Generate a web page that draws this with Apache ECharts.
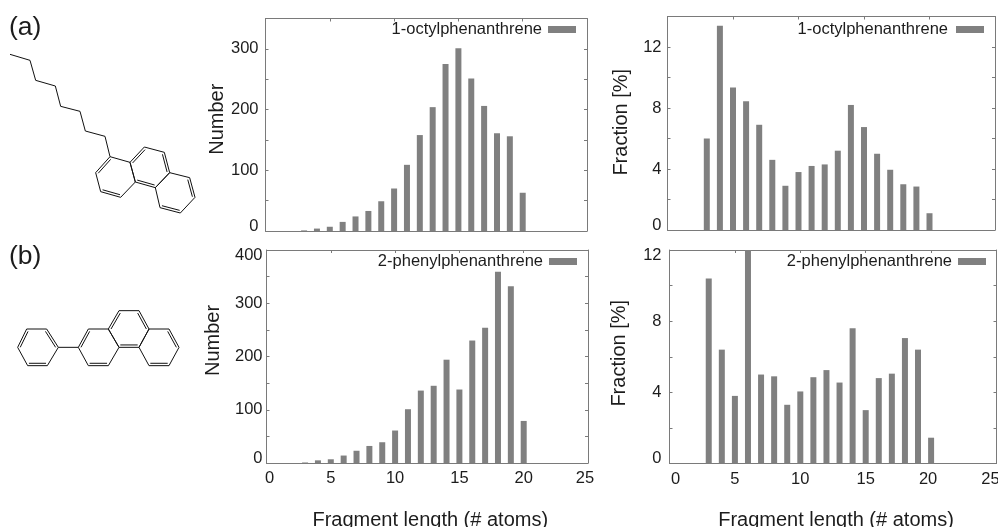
<!DOCTYPE html>
<html>
<head>
<meta charset="utf-8">
<style>html,body{margin:0;padding:0;background:#fff}#c{width:998px;height:527px}</style>
<script src="https://cdn.jsdelivr.net/npm/echarts@6/dist/echarts.min.js"></script>
</head>
<body>
<div id="c"></div>
<script>
var fragmentLengths = [3,4,5,6,7,8,9,10,11,12,13,14,15,16,17,18,19,20];
var octylNumber = [1,4,7,15,24,33,49,70,109,158,204,275,301,251,206,161,156,63];
var octylFraction = [6.0,13.4,9.35,8.45,6.9,4.6,2.9,3.8,4.2,4.3,5.2,8.2,6.75,5.0,3.95,3.0,2.85,1.1];
var phenylNumber = [1,5,7,14,23,32,39,61,101,136,145,194,138,230,254,359,332,79];
var phenylFraction = [10.4,6.4,3.8,12.6,5.0,4.9,3.3,4.05,4.85,5.25,4.55,7.6,3.0,4.8,5.05,7.05,6.4,1.45];
var octylName = '1-octylphenanthrene';
var phenylName = '2-phenylphenanthrene';
var xTitle = 'Fragment length (# atoms)';
var numberTitle = 'Number';
var fractionTitle = 'Fraction [%]';

var FONT = '"Liberation Sans", Arial, sans-serif';
var TXT = '#1c1c1c', AX = '#7a7a7a', BAR = '#808080';
var TICKFS = 16.5;

var panels = [
  {box:[265.5,18.5,321.5,212.5], name:octylName, vals:octylNumber, yMax:350, yStep:50, yLab:100, yTitle:numberTitle, xLabels:false, nameGap:38, titleUp:5.5, yMargin:7, legendRight:998-576, legendTop:21, legendPad:1},
  {box:[667.5,16.5,327.5,213.5], name:octylName, vals:octylFraction, yMax:14, yStep:2, yLab:4, yTitle:fractionTitle, xLabels:false, nameGap:36, titleUp:1, yMargin:6, legendRight:998-984, legendTop:21, legendPad:3},
  {box:[266.5,250,321.5,213], name:phenylName, vals:phenylNumber, yMax:400, yStep:50, yLab:100, yTitle:numberTitle, xLabels:true, nameGap:43, titleUp:16, yMargin:4, legendRight:998-577, legendTop:253, legendPad:1, xShift:{0:3,25:-3}, xTitleShift:3},
  {box:[669.5,250,327,213.5], name:phenylName, vals:phenylFraction, yMax:12, yStep:2, yLab:4, yTitle:fractionTitle, xLabels:true, nameGap:40, titleUp:3.5, yMargin:8, legendRight:998-986, legendTop:253, legendPad:1, xShift:{0:6,20:-3,25:-6}, xTitleShift:3}
];

function plainRich(fs){return {fontFamily:FONT,fontSize:fs,color:TXT};}
function shifted(pad){var r=plainRich(TICKFS);r.padding=pad;return r;}

var grids=[], xAxes=[], yAxes=[], series=[], legends=[];
panels.forEach(function(p,i){
  grids.push({left:p.box[0],top:p.box[1],width:p.box[2],height:p.box[3],show:false,outerBoundsMode:'none',containLabel:false});
  var xBase = {gridIndex:i,type:'value',min:0,max:25,interval:5,splitLine:{show:false},
    axisLine:{show:true,onZero:false,lineStyle:{color:AX,width:1}},
    axisTick:{show:true,inside:true,length:3,lineStyle:{color:AX}}};
  var sh = p.xShift||{};
  var xr = {n:plainRich(TICKFS)};
  Object.keys(sh).forEach(function(k){
    xr['s'+k]=shifted(sh[k]>0?[0,0,0,2*sh[k]]:[0,-2*sh[k],0,0]);
  });
  xAxes.push(Object.assign({},xBase,{position:'bottom',
    name:p.xLabels?xTitle:'',nameLocation:'middle',nameGap:47,
    nameTextStyle:{fontFamily:FONT,fontSize:20,color:TXT,padding:[0,0,0,2*(p.xTitleShift||0)]},
    axisLabel:{show:p.xLabels,margin:7,rich:xr,color:TXT,fontFamily:FONT,fontSize:TICKFS,
      formatter:(function(s){return function(v){return '{'+(s[v]!==undefined?'s'+v:'n')+'|'+v+'}';};})(sh)}}));
  xAxes.push(Object.assign({},xBase,{position:'top',axisLabel:{show:false}}));
  var yBase = {gridIndex:i,type:'value',min:0,max:p.yMax,interval:p.yStep,splitLine:{show:false},
    axisLine:{show:true,onZero:false,lineStyle:{color:AX,width:1}},
    axisTick:{show:true,inside:true,length:3,lineStyle:{color:AX}}};
  yAxes.push(Object.assign({},yBase,{position:'left',
    name:p.yTitle,nameLocation:'middle',nameGap:p.nameGap,nameRotate:90,
    nameTextStyle:{fontFamily:FONT,fontSize:20,color:TXT,padding:[0,0,0,2*p.titleUp]},
    axisLabel:{show:true,margin:p.yMargin,color:TXT,fontFamily:FONT,fontSize:TICKFS,
      rich:{n:plainRich(TICKFS),low:shifted([0,0,10,0]),high:shifted([11,0,0,0])},
      formatter:(function(step,mx){return function(v){
        if(v%step!==0) return '';
        var k = v===0?'low':(v===mx?'high':'n');
        return '{'+k+'|'+v+'}';
      };})(p.yLab,p.yMax)}}));
  yAxes.push(Object.assign({},yBase,{position:'right',axisLabel:{show:false}}));
  series.push({type:'bar',name:p.name,xAxisIndex:i*2,yAxisIndex:i*2,barWidth:6,clip:true,
    itemStyle:{color:BAR},
    data:fragmentLengths.map(function(x,k){return [x,p.vals[k]];})});
  legends.push({show:true,data:[p.name],right:p.legendRight,top:p.legendTop,align:'right',orient:'horizontal',
    itemWidth:28,itemHeight:7,itemGap:0,padding:0,icon:'rect',selectedMode:false,
    textStyle:{fontFamily:FONT,fontSize:TICKFS,color:TXT,padding:[0,p.legendPad,0,0]}});
});

// Molecule sketches (decoration, in reference pixel space x3)
var molA = {
  bonds:[[[30,163],[90,181]],[[90,181],[107,241]],[[107,241],[166,258]],[[166,258],[182,319]],[[182,319],[240,334]],[[240,334],[256,393]],[[256,393],[315,409]],[[315,409],[330,470]]],
  rings:[
    {pts:[[330,470],[390,487],[406,546],[362,592],[302,575],[287,518]],dbl:[[5,0],[3,4]]},
    {pts:[[390,487],[433,441],[493,457],[509,518],[466,563],[406,546]],dbl:[[0,1],[2,3],[4,5]]},
    {pts:[[509,518],[569,533],[585,592],[541,639],[480,623],[466,563]],dbl:[[1,2],[3,4]]}
  ]};
var molB = {
  bonds:[[[175,1042],[235,1042]]],
  rings:[
    {pts:[[80,987],[140,987],[175,1042],[142,1097],[83,1097],[53,1042]],dbl:[[5,0],[1,2],[3,4]]},
    {pts:[[235,1042],[265,987],[325,987],[357,1042],[325,1097],[265,1097]],dbl:[[0,1],[4,5]]},
    {pts:[[325,987],[357,932],[417,932],[447,987],[417,1042],[357,1042]],dbl:[[0,1],[2,3],[4,5]]},
    {pts:[[447,987],[507,987],[537,1042],[507,1097],[447,1097],[417,1042]],dbl:[[1,2],[3,4]]}
  ]};
var gfx = [];
function seg(a,b){
  gfx.push({type:'line',silent:true,shape:{x1:a[0]/3,y1:a[1]/3,x2:b[0]/3,y2:b[1]/3},
    style:{stroke:'#111',lineWidth:1}});
}
[molA,molB].forEach(function(m){
  m.bonds.forEach(function(b){seg(b[0],b[1]);});
  m.rings.forEach(function(r){
    var cx=0,cy=0; r.pts.forEach(function(q){cx+=q[0]/6;cy+=q[1]/6;});
    r.pts.forEach(function(q,i){seg(q,r.pts[(i+1)%6]);});
    r.dbl.forEach(function(d){
      var a=r.pts[d[0]],b=r.pts[d[1]],f=0.13;
      seg([a[0]+(cx-a[0])*f,a[1]+(cy-a[1])*f],[b[0]+(cx-b[0])*f,b[1]+(cy-b[1])*f]);
    });
  });
});
gfx.push({type:'text',left:9,top:14,style:{text:'(a)',font:'26.5px '+FONT,fill:TXT}});
gfx.push({type:'text',left:9,top:243,style:{text:'(b)',font:'26.5px '+FONT,fill:TXT}});

var chart = echarts.init(document.getElementById('c'),null,{renderer:'canvas'});
chart.setOption({animation:false,backgroundColor:'#fff',grid:grids,xAxis:xAxes,yAxis:yAxes,
  legend:legends,series:series,graphic:gfx});
</script>
</body>
</html>
